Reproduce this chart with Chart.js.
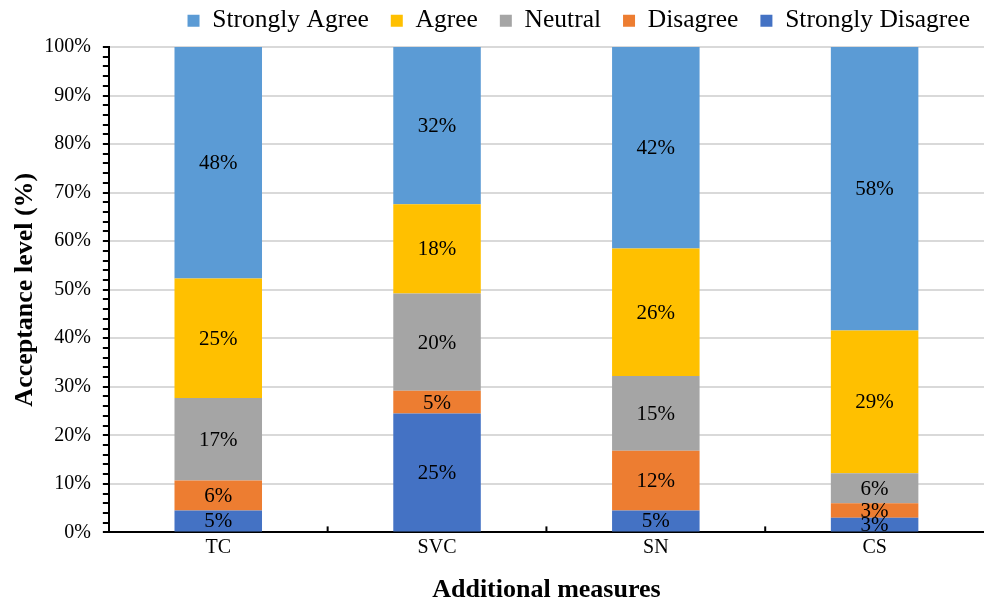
<!DOCTYPE html>
<html>
<head>
<meta charset="utf-8">
<script src="https://cdn.jsdelivr.net/npm/chart.js@4/dist/chart.umd.min.js"></script>
<style>
  html, body { margin: 0; padding: 0; background: #fff; }
  #wrap { width: 984px; height: 605px; position: relative; }
</style>
</head>
<body>
<div id="wrap"><canvas id="chart"></canvas></div>
<script>
// acceptance of additional measures, % of respondents per answer
const categories = ['TC', 'SVC', 'SN', 'CS']
const stronglyDisagree = [4.5, 24.5, 4.5, 3.0]
const disagree = [6.2, 4.7, 12.3, 3.0]
const neutral = [17.0, 20.0, 15.4, 6.2]
const agree = [24.6, 18.4, 26.3, 29.4]
const stronglyAgree = [47.7, 32.4, 41.5, 58.4]
const yTicks = [0, 10, 20, 30, 40, 50, 60, 70, 80, 90, 100]

const serif = '"Liberation Serif", "Times New Roman", serif'

// write the rounded % in the middle of every segment
const segmentLabels = {
    id: 'segmentLabels',
    afterDatasetsDraw(chart) {
        const ctx = chart.ctx
        ctx.save()
        ctx.font = '21px ' + serif
        ctx.fillStyle = '#000'
        ctx.textAlign = 'center'
        ctx.textBaseline = 'middle'
        chart.data.datasets.forEach((ds, i) => {
            chart.getDatasetMeta(i).data.forEach((bar, j) => {
                const mid = (bar.y + bar.base) / 2
                ctx.fillText(Math.round(ds.data[j]) + '%', bar.x, mid + 1)
            })
        })
        ctx.restore()
    }
}

// small inward tick marks between categories on the x axis
const xInnerTicks = {
    id: 'xInnerTicks',
    afterDraw(chart) {
        const x = chart.scales.x
        const ctx = chart.ctx
        ctx.save()
        ctx.strokeStyle = '#000'
        ctx.lineWidth = 2
        for (let i = 0; i < categories.length - 1; i++) {
            const px = (x.getPixelForValue(i) + x.getPixelForValue(i + 1)) / 2
            ctx.beginPath()
            ctx.moveTo(px, x.top)
            ctx.lineTo(px, x.top - 6)
            ctx.stroke()
        }
        ctx.restore()
    }
}

const mk = (label, data, color) => ({
    label, data, backgroundColor: color, borderWidth: 0,
    barPercentage: 0.4, categoryPercentage: 1.0
})

new Chart(document.getElementById('chart'), {
    type: 'bar',
    data: {
        labels: categories,
        datasets: [
            mk('Strongly Disagree', stronglyDisagree, '#4472C4'),
            mk('Disagree', disagree, '#ED7D31'),
            mk('Neutral', neutral, '#A5A5A5'),
            mk('Agree', agree, '#FFC000'),
            mk('Strongly Agree', stronglyAgree, '#5B9BD5')
        ]
    },
    options: {
        responsive: true,
        maintainAspectRatio: false,
        animation: false,
        layout: { padding: { left: 10, right: -8, top: -14, bottom: 0 } },
        plugins: {
            legend: {
                position: 'top',
                align: 'end',
                reverse: true,
                labels: {
                    boxWidth: 12, boxHeight: 12, padding: 22,
                    color: '#000',
                    font: { family: serif, size: 25.5 }
                }
            },
            // empty spacer between legend and plot
            subtitle: {
                display: true, text: ' ', weight: 0,
                font: { size: 1, lineHeight: 1 },
                padding: { top: 0, bottom: 2.5 }
            },
            tooltip: { enabled: false }
        },
        scales: {
            x: {
                stacked: true,
                grid: { display: false, drawTicks: false, tickLength: 0 },
                border: { color: '#000', width: 2 },
                ticks: { color: '#000', padding: 3, font: { family: serif, size: 20 } },
                title: {
                    display: true, text: 'Additional measures', color: '#000',
                    padding: { top: 14, bottom: 0 },
                    font: { family: serif, size: 26, weight: 'bold', lineHeight: 1.1 }
                }
            },
            y: {
                stacked: true,
                min: 0, max: 100,
                border: { color: '#000', width: 2 },
                grid: {
                    color: c => yTicks.includes(Math.round(c.tick.value)) ? '#d9d9d9' : 'transparent',
                    tickColor: '#000',
                    tickLength: 6,
                    lineWidth: 2,
                    tickWidth: 2
                },
                ticks: {
                    stepSize: 2,
                    autoSkip: false,
                    color: '#000',
                    padding: 12,
                    font: { family: serif, size: 20 },
                    callback: v => yTicks.includes(Math.round(v)) ? v + '%' : ''
                },
                title: {
                    display: true, text: 'Acceptance level (%)', color: '#000',
                    padding: { top: 0, bottom: -9 },
                    font: { family: serif, size: 26, weight: 'bold' }
                }
            }
        }
    },
    plugins: [segmentLabels, xInnerTicks]
})
</script>
</body>
</html>
